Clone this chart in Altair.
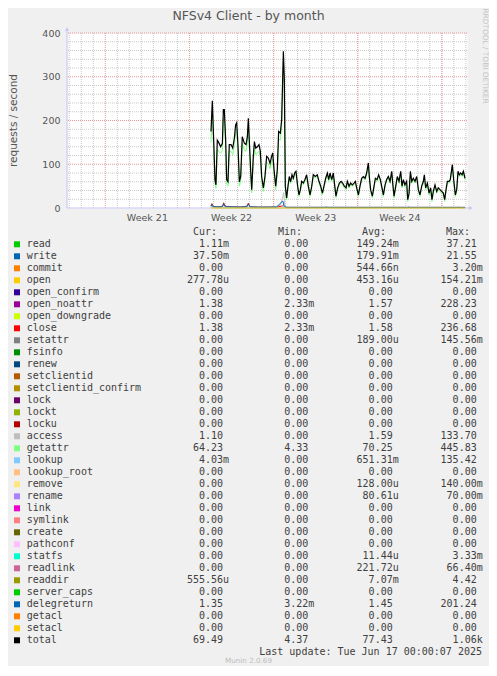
import altair as alt
import pandas as pd

# ---------------- texts ----------------
TITLE = "NFSv4 Client - by month"
Y_TITLE = "requests / second"
SIDE_TEXT = "RRDTOOL / TOBI OETIKER"
LAST_UPDATE = "Last update: Tue Jun 17 00:00:07 2025"
VERSION = "Munin 2.0.69"
HEADERS = ["Cur:", "Min:", "Avg:", "Max:"]

# ---------------- axes (x = days since start of the 33-day window) ----------------
week_labels = ["Week 21", "Week 22", "Week 23", "Week 24"]
week_bounds = [3.16, 10.10, 17.05, 23.99, 30.93]
y_label_values = [0, 100, 200, 300, 400]
y_major = [100, 200, 300, 400]
y_minor = [20, 40, 60, 80, 120, 140, 160, 180, 220, 240, 260, 280, 320, 340, 360, 380]

# ---------------- series ----------------
time = [11.88, 11.99, 12.10, 12.21, 12.29, 12.40, 12.51, 12.68, 12.82, 12.90,
        12.98, 13.09, 13.17, 13.28, 13.39, 13.53, 13.67, 13.81, 13.91, 14.00,
        14.11, 14.22, 14.33, 14.46, 14.63, 14.77, 14.88, 14.96, 15.04, 15.15,
        15.24, 15.37, 15.46, 15.57, 15.70, 15.84, 15.95, 16.06, 16.20, 16.33,
        16.47, 16.61, 16.75, 16.88, 16.97, 17.08, 17.22, 17.35, 17.46, 17.60,
        17.71, 17.85, 17.93, 18.01, 18.12, 18.23, 18.34, 18.45, 18.56, 18.67,
        18.78, 18.89, 19.03, 19.14, 19.25, 19.36, 19.50, 19.63, 19.77, 19.91,
        20.05, 20.19, 20.32, 20.49, 20.65, 20.79, 20.93, 21.07, 21.20, 21.34,
        21.48, 21.59, 21.70, 21.84, 21.97, 22.08, 22.19, 22.33, 22.47, 22.61,
        22.74, 22.88, 23.02, 23.13, 23.27, 23.40, 23.54, 23.68, 23.79, 23.90,
        24.04, 24.17, 24.31, 24.45, 24.59, 24.72, 24.86, 24.94, 25.05, 25.19,
        25.33, 25.44, 25.58, 25.71, 25.85, 25.99, 26.10, 26.24, 26.37, 26.51,
        26.65, 26.79, 26.87, 26.98, 27.12, 27.25, 27.39, 27.53, 27.64, 27.75,
        27.88, 28.02, 28.11, 28.22, 28.33, 28.44, 28.57, 28.71, 28.85, 28.99,
        29.12, 29.26, 29.40, 29.48, 29.59, 29.73, 29.87, 30.00, 30.11, 30.22,
        30.36, 30.50, 30.63, 30.77, 30.91, 31.05, 31.16, 31.27, 31.38, 31.52,
        31.62, 31.79, 31.90, 32.04, 32.15, 32.26, 32.37, 32.48, 32.59, 32.70,
        32.84]

total = [175, 245, 155, 65, 53, 155, 150, 140, 148, 225,
         225, 155, 65, 60, 145, 145, 137, 160, 190, 195,
         140, 60, 72, 163, 148, 145, 163, 205, 155, 87,
         42, 118, 152, 137, 140, 145, 130, 72, 46, 72,
         118, 114, 102, 118, 126, 88, 50, 88, 175, 171,
         202, 358, 293, 50, 23, 50, 72, 60, 76, 68,
         80, 84, 50, 30, 42, 61, 57, 65, 76, 50,
         30, 50, 76, 72, 76, 61, 50, 34, 50, 68,
         80, 65, 80, 65, 80, 53, 27, 46, 57, 61,
         57, 50, 46, 61, 50, 57, 53, 57, 61, 46,
         30, 50, 68, 72, 68, 80, 103, 72, 42, 27,
         50, 68, 65, 76, 65, 46, 30, 53, 65, 72,
         61, 84, 57, 27, 50, 72, 61, 84, 50, 65,
         53, 61, 19, 34, 84, 61, 68, 61, 72, 42,
         30, 50, 61, 76, 46, 57, 34, 46, 19, 38,
         53, 38, 46, 42, 38, 34, 19, 42, 61, 61,
         65, 99, 65, 30, 42, 84, 76, 80, 76, 84,
         68]

getattr_vals = [150, 225, 140, 55, 45, 135, 130, 125, 132, 205,
                208, 140, 55, 50, 130, 130, 122, 145, 172, 180,
                125, 50, 62, 148, 132, 130, 148, 188, 140, 76,
                35, 105, 137, 122, 125, 130, 115, 62, 38, 62,
                105, 100, 90, 105, 112, 76, 42, 76, 158, 155,
                185, 335, 270, 42, 18, 45, 67, 56, 71, 64,
                76, 80, 46, 26, 38, 57, 53, 61, 72, 46,
                26, 46, 72, 68, 72, 57, 46, 30, 46, 64,
                76, 61, 76, 61, 76, 49, 23, 42, 53, 57,
                53, 46, 42, 57, 46, 53, 49, 53, 57, 42,
                26, 46, 64, 68, 64, 76, 98, 68, 38, 23,
                46, 64, 61, 72, 61, 42, 26, 49, 61, 68,
                57, 80, 53, 23, 46, 68, 57, 80, 46, 61,
                49, 57, 15, 30, 80, 57, 64, 57, 68, 38,
                26, 46, 57, 72, 42, 53, 30, 42, 15, 34,
                49, 34, 42, 38, 34, 30, 15, 38, 57, 57,
                61, 95, 61, 26, 38, 80, 72, 76, 72, 80,
                64]

small_time = [11.88, 11.95, 12.05, 12.30, 12.70, 12.85, 12.92, 13.05, 13.60, 14.30,
              14.85, 14.96, 15.10, 15.80, 16.60, 17.30, 17.80, 17.90, 18.05, 19.50,
              22.00, 25.00, 28.00, 31.00, 32.84]
close_vals = [5, 10, 4, 3, 3, 5, 12, 4, 3, 2.5,
              4, 11, 3, 2, 2, 2, 5, 3, 1.5, 1.4,
              1.4, 1.4, 1.4, 1.4, 1.38]
delegreturn_vals = [4, 8, 3, 2.5, 2.5, 4, 10, 3, 2.5, 2,
                    3, 9, 2.5, 2, 2, 2.5, 16, 6, 1.5, 1.4,
                    1.5, 1.4, 1.4, 1.4, 1.35]

access_time = [11.88, 13.00, 15.00, 17.00, 17.60, 17.80, 17.88, 17.95, 18.10, 20.00, 25.00, 32.84]
access_vals = [2, 2, 2, 2, 6, 25, 35, 10, 1.5, 1.5, 1.2, 1.1]

lookup_time = [11.88, 12.00, 12.10, 17.80, 17.88, 17.95, 21.30, 21.40, 21.50,
               28.10, 28.20, 28.30, 32.20, 32.30, 32.40, 32.84]
lookup_vals = [0, 5, 0, 0, 8, 0, 0, 4, 0, 0, 4, 0, 0, 3, 0, 0]

zero_time = [11.88, 32.84]
setacl_vals = [0, 0]

# ---------------- legend table ----------------
names = ["read", "write", "commit", "open", "open_confirm", "open_noattr", "open_downgrade",
         "close", "setattr", "fsinfo", "renew", "setclientid", "setclientid_confirm", "lock",
         "lockt", "locku", "access", "getattr", "lookup", "lookup_root", "remove", "rename",
         "link", "symlink", "create", "pathconf", "statfs", "readlink", "readdir",
         "server_caps", "delegreturn", "getacl", "setacl", "total"]
colors = ["#00CC00", "#0066B3", "#FF8000", "#FFCC00", "#330099", "#990099", "#CCFF00",
          "#FF0000", "#808080", "#008F00", "#00487D", "#B35A00", "#B38F00", "#6B006B",
          "#8FB300", "#B30000", "#BEBEBE", "#80FF80", "#80C9FF", "#FFC080", "#FFE680",
          "#AA80FF", "#EE00CC", "#FF8080", "#666600", "#FFBFFF", "#00FFCC", "#CC6699",
          "#999900", "#00CC00", "#0066B3", "#FF8000", "#FFCC00", "#000000"]
cur = ["1.11m", "37.50m", "0.00", "277.78u", "0.00", "1.38", "0.00", "1.38", "0.00", "0.00",
       "0.00", "0.00", "0.00", "0.00", "0.00", "0.00", "1.10", "64.23", "4.03m", "0.00",
       "0.00", "0.00", "0.00", "0.00", "0.00", "0.00", "0.00", "0.00", "555.56u", "0.00",
       "1.35", "0.00", "0.00", "69.49"]
mins = ["0.00", "0.00", "0.00", "0.00", "0.00", "2.33m", "0.00", "2.33m", "0.00", "0.00",
        "0.00", "0.00", "0.00", "0.00", "0.00", "0.00", "0.00", "4.33", "0.00", "0.00",
        "0.00", "0.00", "0.00", "0.00", "0.00", "0.00", "0.00", "0.00", "0.00", "0.00",
        "3.22m", "0.00", "0.00", "4.37"]
avgs = ["149.24m", "179.91m", "544.66n", "453.16u", "0.00", "1.57", "0.00", "1.58", "189.00u", "0.00",
        "0.00", "0.00", "0.00", "0.00", "0.00", "0.00", "1.59", "70.25", "651.31m", "0.00",
        "128.00u", "80.61u", "0.00", "0.00", "0.00", "0.00", "11.44u", "221.72u", "7.07m", "0.00",
        "1.45", "0.00", "0.00", "77.43"]
maxs = ["37.21", "21.55", "3.20m", "154.21m", "0.00", "228.23", "0.00", "236.68", "145.56m", "0.00",
        "0.00", "0.00", "0.00", "0.00", "0.00", "0.00", "133.70", "445.83", "135.42", "0.00",
        "140.00m", "70.00m", "0.00", "0.00", "0.00", "0.00", "3.33m", "66.40m", "4.42", "0.00",
        "201.24", "0.00", "0.00", "1.06k"]

# ---------------- styling ----------------
FONT = "DejaVu Sans"
MONO = "DejaVu Sans Mono"
TXT = "#404040"
LBL = "#555555"
AX = "#c4c4f4"
GRID_MINOR = "#c8c8c8"
GRID_MAJOR = "#e69a9a"

W, H = 400, 175
x_scale = alt.Scale(domain=[0, 33], nice=False, zero=False)
y_scale = alt.Scale(domain=[0, 400], nice=False, zero=False)

week_step = (week_bounds[1] - week_bounds[0]) / 7
minor_days = [round(week_bounds[0] + k * week_step, 3) for k in range(-3, 31)]
minor_days = [d for d in minor_days if 0 < d < 33 and d not in week_bounds]
week_mid = [(a + b) / 2 for a, b in zip(week_bounds[:-1], week_bounds[1:])]


def vgrid(vals, color):
    return alt.Chart(pd.DataFrame({"d": vals})).mark_rule(
        color=color, strokeWidth=1, strokeDash=[1, 1]
    ).encode(x=alt.X("d:Q", scale=x_scale, axis=None))


def hgrid(vals, color, axis=None):
    return alt.Chart(pd.DataFrame({"v": vals})).mark_rule(
        color=color, strokeWidth=1, strokeDash=[1, 1]
    ).encode(y=alt.Y("v:Q", scale=y_scale, axis=axis))


def series(t, v, color, width=1.0):
    return alt.Chart(pd.DataFrame({"t": t, "v": v})).mark_line(
        color=color, strokeWidth=width
    ).encode(
        x=alt.X("t:Q", scale=x_scale, axis=None),
        y=alt.Y("v:Q", scale=y_scale, axis=None),
    )


def note(text, x, y, size, color, font=FONT, align="center", angle=0):
    kw = dict(align=align, baseline="middle", font=font, fontSize=size, color=color)
    if angle:
        kw["angle"] = angle
    return alt.Chart(pd.DataFrame({"s": [text]})).mark_text(**kw).encode(
        x=alt.value(x), y=alt.value(y), text="s:N"
    )


y_axis = alt.Axis(values=y_label_values, format="d", grid=False, ticks=False, tickSize=0,
                  domain=False, labelPadding=7, labelFont=FONT, labelFontSize=9.5,
                  labelColor=LBL, title=None, orient="left")

dummy = pd.DataFrame({"a": [0]})
axis_y_line = alt.Chart(dummy).mark_rule(color=AX, strokeWidth=1).encode(
    x=alt.value(0), y=alt.value(-4), y2=alt.value(H))
axis_x_line = alt.Chart(dummy).mark_rule(color=AX, strokeWidth=1).encode(
    x=alt.value(0), x2=alt.value(404), y=alt.value(H))
arrow_up = alt.Chart(dummy).mark_point(shape="triangle-up", filled=True, size=16,
                                       color=AX, opacity=1).encode(
    x=alt.value(0), y=alt.value(-4))
arrow_right = alt.Chart(dummy).mark_point(shape="triangle-right", filled=True, size=16,
                                          color=AX, opacity=1).encode(
    x=alt.value(404), y=alt.value(H))

week_text = alt.Chart(pd.DataFrame({"m": week_mid, "w": week_labels})).mark_text(
    baseline="middle", align="center", font=FONT, fontSize=9.5, color=LBL
).encode(x=alt.X("m:Q", scale=x_scale, axis=None), y=alt.value(185), text="w:N")


def split(s):
    n = s.rstrip("munk")
    return n, s[len(n):]


leg = pd.DataFrame({"row": list(range(len(names))), "name": names, "color": colors})
for key, vals in (("cur", cur), ("min", mins), ("avg", avgs), ("max", maxs)):
    leg[key + "_n"] = [split(v)[0] for v in vals]
    leg[key + "_s"] = [split(v)[1] for v in vals]

row_y = alt.Y("row:Q", scale=alt.Scale(domain=[0, 33], range=[211.3, 607.3]), axis=None)

squares = alt.Chart(leg).mark_square(size=36, opacity=1).encode(
    x=alt.value(-50), y=row_y, color=alt.Color("color:N", scale=None))
name_text = alt.Chart(leg).mark_text(align="left", baseline="middle", font=MONO,
                                     fontSize=10, color=TXT).encode(
    x=alt.value(-40.3), y=row_y, text="name:N")

col_layers = []
for key, xpos in (("cur", 156), ("min", 241.3), ("avg", 325.7), ("max", 409.7)):
    col_layers.append(alt.Chart(leg).mark_text(align="right", baseline="middle", font=MONO,
                                               fontSize=10, color=TXT).encode(
        x=alt.value(xpos), y=row_y, text=f"{key}_n:N"))
    col_layers.append(alt.Chart(leg).mark_text(align="left", baseline="middle", font=MONO,
                                               fontSize=10, color=TXT).encode(
        x=alt.value(xpos), y=row_y, text=f"{key}_s:N"))

header_layers = [note(h, hx, 199, 10, TXT, font=MONO, align="right")
                 for h, hx in zip(HEADERS, (150, 235, 319, 403))]

layers = [
    vgrid(minor_days, GRID_MINOR),
    hgrid(y_minor, GRID_MINOR),
    vgrid(week_bounds, GRID_MAJOR),
    hgrid(y_major, GRID_MAJOR, axis=y_axis),
    axis_y_line, axis_x_line, arrow_up, arrow_right,
    series(small_time, close_vals, "#FF0000"),
    series(access_time, access_vals, "#BEBEBE"),
    series(time, getattr_vals, "#80FF80"),
    series(lookup_time, lookup_vals, "#80C9FF"),
    series(small_time, delegreturn_vals, "#0066B3"),
    series(zero_time, setacl_vals, "#FFCC00"),
    series(time, total, "#000000", 1.2),
    week_text,
    note(TITLE, 181.5, -17.5, 12.5, LBL),
    note(Y_TITLE, -53, 87.5, 10.5, LBL, angle=270),
    note(SIDE_TEXT, 417.5, 23, 7.4, "#c4c4c4", angle=90),
    note(LAST_UPDATE, 415, 619, 10, TXT, font=MONO, align="right"),
    note(VERSION, 181.5, 628, 7.2, "#bdbdbd"),
    squares, name_text,
] + col_layers + header_layers

chart = alt.layer(*layers).resolve_scale(y="independent").properties(
    width=W, height=H,
    padding={"left": 59, "top": 25, "right": 22, "bottom": 458},
    autosize=alt.AutoSizeParams(type="none"),
    background="#f0f0f0",
).configure_view(fill="white", stroke="transparent")

chart.save("out.html", embed_options={"renderer": "svg", "actions": False})
